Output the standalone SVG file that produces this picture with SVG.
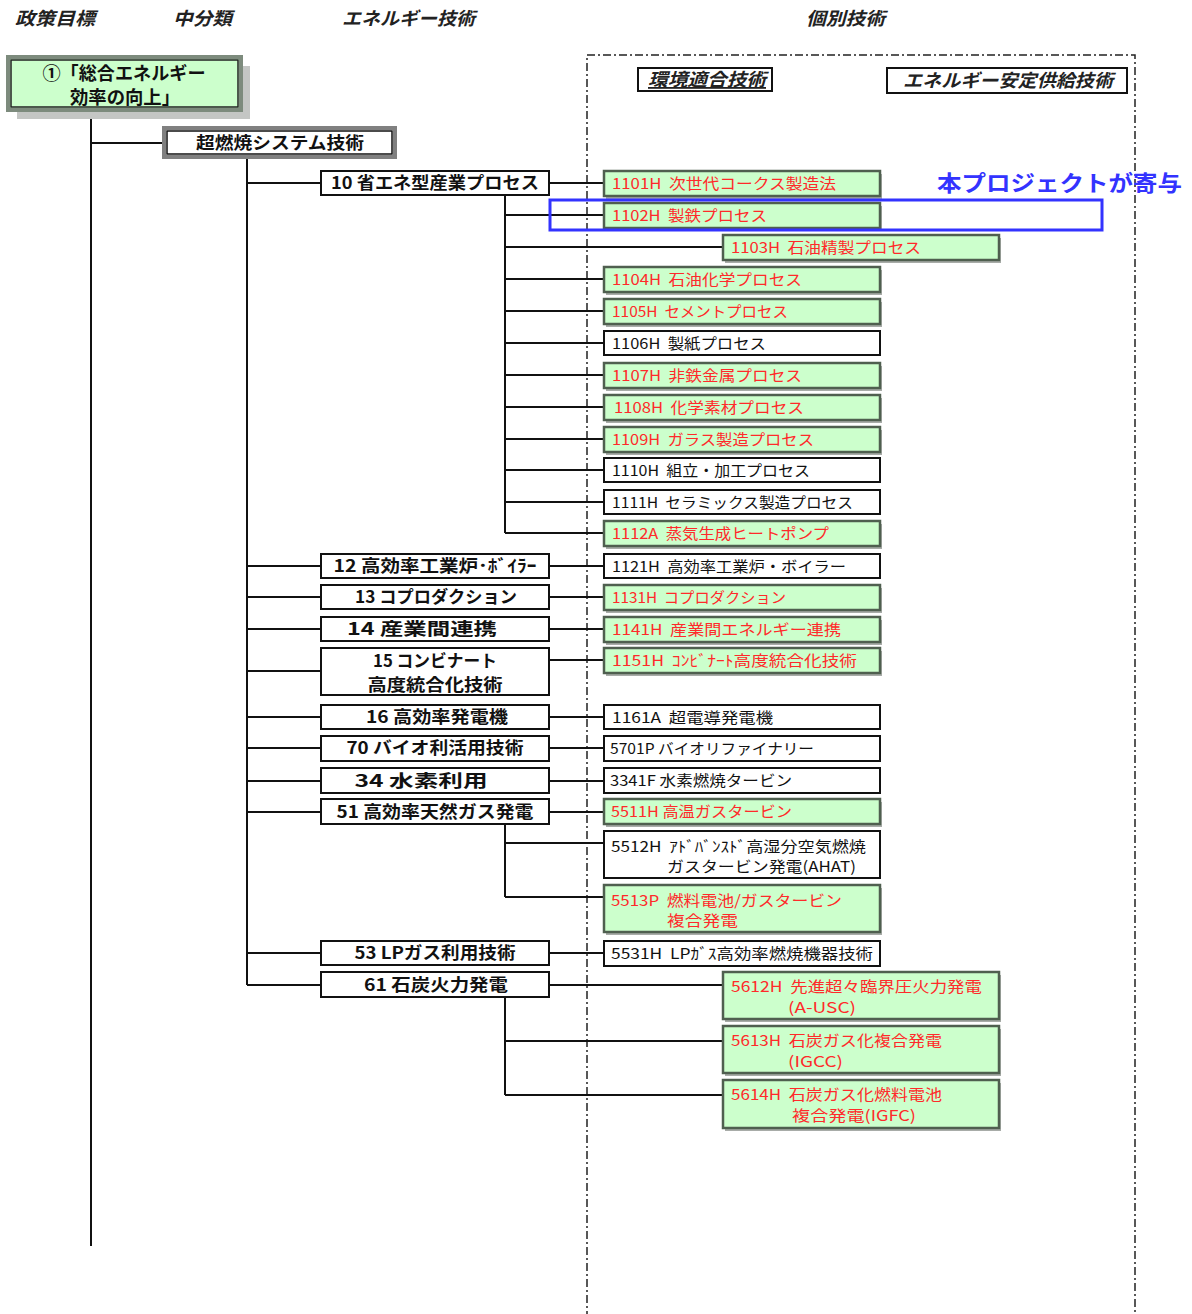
<svg xmlns="http://www.w3.org/2000/svg" width="1192" height="1314" viewBox="0 0 1192 1314">
<style>
text{font-family:"Noto Sans CJK JP","Noto Sans",sans-serif;white-space:pre}
.hd{font-size:18px;font-weight:bold;font-style:italic;fill:#222}
.mid{font-size:17px;font-weight:bold;fill:#111}
.t{font-size:15px;fill:#111}
.r{font-size:15px;fill:#ff2a2a}
.gbox{fill:#ccffcc;stroke:#4f5f4f;stroke-width:2.5}
.sh{fill:#a8aca8}
.wbox{fill:#fff;stroke:#111;stroke-width:2}
.mbox{fill:#fff;stroke:#111;stroke-width:2}
.ln{stroke:#111;stroke-width:2;fill:none}
</style>
<rect width="1192" height="1314" fill="#fff"/>
<g id="headers">
<text class="hd" x="15" y="25" textLength="80" lengthAdjust="spacingAndGlyphs">政策目標</text>
<text class="hd" x="173" y="25" textLength="59" lengthAdjust="spacingAndGlyphs">中分類</text>
<text class="hd" x="342" y="25" textLength="133" lengthAdjust="spacingAndGlyphs">エネルギー技術</text>
<text class="hd" x="806" y="25" textLength="79" lengthAdjust="spacingAndGlyphs">個別技術</text>
</g>
<g id="region">
<rect x="587" y="55" width="548" height="1300" fill="none" stroke="#222" stroke-width="1.5" stroke-dasharray="8,3,2,3"/>
</g>
<g id="subhead-env">
<rect x="638" y="68" width="134" height="23" fill="#fff" stroke="#111" stroke-width="2"/>
<text class="hd" x="648" y="86" font-size="16" text-decoration="underline" textLength="118" lengthAdjust="spacingAndGlyphs">環境適合技術</text>
</g>
<g id="subhead-supply">
<rect x="887" y="68" width="240" height="25" fill="#fff" stroke="#111" stroke-width="2"/>
<text class="hd" x="903" y="87" font-size="16" textLength="210" lengthAdjust="spacingAndGlyphs">エネルギー安定供給技術</text>
</g>
<g id="connectors" class="ln">
<line x1="91" y1="110" x2="91" y2="1246"/>
<line x1="91" y1="143" x2="164" y2="143"/>
<line x1="247" y1="157" x2="247" y2="985"/>
<line x1="247" y1="183" x2="321" y2="183"/>
<line x1="247" y1="566" x2="321" y2="566"/>
<line x1="247" y1="597" x2="321" y2="597"/>
<line x1="247" y1="629" x2="321" y2="629"/>
<line x1="247" y1="671" x2="321" y2="671"/>
<line x1="247" y1="717" x2="321" y2="717"/>
<line x1="247" y1="748" x2="321" y2="748"/>
<line x1="247" y1="781" x2="321" y2="781"/>
<line x1="247" y1="812" x2="321" y2="812"/>
<line x1="247" y1="953" x2="321" y2="953"/>
<line x1="247" y1="985" x2="321" y2="985"/>
<line x1="549" y1="183" x2="604" y2="183"/>
<line x1="505" y1="195" x2="505" y2="533"/>
<line x1="505" y1="215" x2="604" y2="215"/>
<line x1="505" y1="247" x2="723" y2="247"/>
<line x1="505" y1="279" x2="604" y2="279"/>
<line x1="505" y1="311" x2="604" y2="311"/>
<line x1="505" y1="343" x2="604" y2="343"/>
<line x1="505" y1="375" x2="604" y2="375"/>
<line x1="505" y1="407" x2="604" y2="407"/>
<line x1="505" y1="439" x2="604" y2="439"/>
<line x1="505" y1="470" x2="604" y2="470"/>
<line x1="505" y1="502" x2="604" y2="502"/>
<line x1="505" y1="533" x2="604" y2="533"/>
<line x1="549" y1="566" x2="604" y2="566"/>
<line x1="549" y1="597" x2="604" y2="597"/>
<line x1="549" y1="629" x2="604" y2="629"/>
<line x1="549" y1="660" x2="604" y2="660"/>
<line x1="549" y1="717" x2="604" y2="717"/>
<line x1="549" y1="748" x2="604" y2="748"/>
<line x1="549" y1="781" x2="604" y2="781"/>
<line x1="549" y1="812" x2="604" y2="812"/>
<line x1="505" y1="824" x2="505" y2="897"/>
<line x1="505" y1="843" x2="604" y2="843"/>
<line x1="505" y1="897" x2="604" y2="897"/>
<line x1="549" y1="953" x2="604" y2="953"/>
<line x1="549" y1="985" x2="723" y2="985"/>
<line x1="505" y1="997" x2="505" y2="1095"/>
<line x1="505" y1="1041" x2="723" y2="1041"/>
<line x1="505" y1="1095" x2="723" y2="1095"/>
</g>
<g id="goal">
<rect x="17" y="66" width="233" height="53" fill="#c4c6c4"/>
<rect x="8" y="57" width="233" height="53" fill="#ccffcc" stroke="#7d8b7d" stroke-width="4"/>
<rect x="11" y="60" width="227" height="47" fill="none" stroke="#222" stroke-width="1.5"/>
<text x="124" y="80" font-size="18" font-weight="bold" text-anchor="middle" fill="#111" textLength="163" lengthAdjust="spacingAndGlyphs">①「総合エネルギー</text>
<text x="125" y="104" font-size="18" font-weight="bold" text-anchor="middle" fill="#111" textLength="110" lengthAdjust="spacingAndGlyphs">効率の向上」</text>
</g>
<g id="n-chonensho">
<rect x="164" y="128" width="231" height="29" fill="#fff" stroke="#808080" stroke-width="4"/>
<rect x="167" y="131" width="225" height="23" fill="none" stroke="#111" stroke-width="1.5"/>
<text class="mid" x="280" y="149" text-anchor="middle" textLength="168" lengthAdjust="spacingAndGlyphs">超燃焼システム技術</text>
</g>
<g id="mid-nodes">
<g id="m10"><rect class="mbox" x="321" y="171" width="228" height="24"/><text class="mid" x="435" y="189" text-anchor="middle" textLength="208" lengthAdjust="spacingAndGlyphs">10 省エネ型産業プロセス</text></g>
<g id="m12"><rect class="mbox" x="321" y="554" width="228" height="24"/><text class="mid" x="435" y="572" text-anchor="middle" textLength="203" lengthAdjust="spacingAndGlyphs">12 高効率工業炉･ﾎﾞｲﾗｰ</text></g>
<g id="m13"><rect class="mbox" x="321" y="585" width="228" height="24"/><text class="mid" x="436" y="603" text-anchor="middle" textLength="162" lengthAdjust="spacingAndGlyphs">13 コプロダクション</text></g>
<g id="m14"><rect class="mbox" x="321" y="617" width="228" height="24"/><text class="mid" x="422" y="635" text-anchor="middle" textLength="150" lengthAdjust="spacingAndGlyphs">14 産業間連携</text></g>
<g id="m15"><rect class="mbox" x="321" y="648" width="228" height="47"/><text class="mid" x="435" y="667" text-anchor="middle" textLength="124" lengthAdjust="spacingAndGlyphs">15 コンビナート</text><text class="mid" x="435" y="691" text-anchor="middle" textLength="135" lengthAdjust="spacingAndGlyphs">高度統合化技術</text></g>
<g id="m16"><rect class="mbox" x="321" y="705" width="228" height="24"/><text class="mid" x="437" y="723" text-anchor="middle" textLength="142" lengthAdjust="spacingAndGlyphs">16 高効率発電機</text></g>
<g id="m70"><rect class="mbox" x="321" y="736" width="228" height="25"/><text class="mid" x="435" y="754" text-anchor="middle" textLength="177" lengthAdjust="spacingAndGlyphs">70 バイオ利活用技術</text></g>
<g id="m34"><rect class="mbox" x="321" y="768" width="228" height="25"/><text class="mid" x="421" y="787" text-anchor="middle" textLength="133" lengthAdjust="spacingAndGlyphs">34 水素利用</text></g>
<g id="m51"><rect class="mbox" x="321" y="799" width="228" height="25"/><text class="mid" x="435" y="818" text-anchor="middle" textLength="197" lengthAdjust="spacingAndGlyphs">51 高効率天然ガス発電</text></g>
<g id="m53"><rect class="mbox" x="321" y="941" width="228" height="24"/><text class="mid" x="435" y="959" text-anchor="middle" textLength="161" lengthAdjust="spacingAndGlyphs">53 LPガス利用技術</text></g>
<g id="m61"><rect class="mbox" x="321" y="972" width="228" height="25"/><text class="mid" x="436" y="991" text-anchor="middle" textLength="144" lengthAdjust="spacingAndGlyphs">61 石炭火力発電</text></g>
</g>
<g id="tech-nodes">
<g id="t1101H"><rect class="sh" x="606" y="174" width="276" height="25"/><rect class="gbox" x="604" y="171" width="276" height="25"/><text class="r" x="612" y="189" textLength="224" lengthAdjust="spacingAndGlyphs">1101H  次世代コークス製造法</text></g>
<g id="t1102H"><rect class="sh" x="606" y="206" width="276" height="25"/><rect class="gbox" x="604" y="203" width="276" height="25"/><text class="r" x="612" y="221" textLength="155" lengthAdjust="spacingAndGlyphs">1102H  製鉄プロセス</text></g>
<g id="t1103H"><rect class="sh" x="725" y="238" width="276" height="25"/><rect class="gbox" x="723" y="235" width="276" height="25"/><text class="r" x="731" y="253" textLength="190" lengthAdjust="spacingAndGlyphs">1103H  石油精製プロセス</text></g>
<g id="t1104H"><rect class="sh" x="606" y="270" width="276" height="25"/><rect class="gbox" x="604" y="267" width="276" height="25"/><text class="r" x="612" y="285" textLength="190" lengthAdjust="spacingAndGlyphs">1104H  石油化学プロセス</text></g>
<g id="t1105H"><rect class="sh" x="606" y="302" width="276" height="25"/><rect class="gbox" x="604" y="299" width="276" height="25"/><text class="r" x="612" y="317" textLength="176" lengthAdjust="spacingAndGlyphs">1105H  セメントプロセス</text></g>
<g id="t1106H"><rect class="wbox" x="604" y="331" width="276" height="24"/><text class="t" x="612" y="349" textLength="154" lengthAdjust="spacingAndGlyphs">1106H  製紙プロセス</text></g>
<g id="t1107H"><rect class="sh" x="606" y="366" width="276" height="25"/><rect class="gbox" x="604" y="363" width="276" height="25"/><text class="r" x="612" y="381" textLength="190" lengthAdjust="spacingAndGlyphs">1107H  非鉄金属プロセス</text></g>
<g id="t1108H"><rect class="sh" x="606" y="398" width="276" height="25"/><rect class="gbox" x="604" y="395" width="276" height="25"/><text class="r" x="614" y="413" textLength="190" lengthAdjust="spacingAndGlyphs">1108H  化学素材プロセス</text></g>
<g id="t1109H"><rect class="sh" x="606" y="430" width="276" height="25"/><rect class="gbox" x="604" y="427" width="276" height="25"/><text class="r" x="612" y="445" textLength="202" lengthAdjust="spacingAndGlyphs">1109H  ガラス製造プロセス</text></g>
<g id="t1110H"><rect class="wbox" x="604" y="458" width="276" height="24"/><text class="t" x="612" y="476" textLength="198" lengthAdjust="spacingAndGlyphs">1110H  組立・加工プロセス</text></g>
<g id="t1111H"><rect class="wbox" x="604" y="490" width="276" height="24"/><text class="t" x="612" y="508" textLength="241" lengthAdjust="spacingAndGlyphs">1111H  セラミックス製造プロセス</text></g>
<g id="t1112A"><rect class="sh" x="606" y="524" width="276" height="25"/><rect class="gbox" x="604" y="521" width="276" height="25"/><text class="r" x="612" y="539" textLength="217" lengthAdjust="spacingAndGlyphs">1112A  蒸気生成ヒートポンプ</text></g>
<g id="t1121H"><rect class="wbox" x="604" y="554" width="276" height="24"/><text class="t" x="612" y="572" textLength="234" lengthAdjust="spacingAndGlyphs">1121H  高効率工業炉・ボイラー</text></g>
<g id="t1131H"><rect class="sh" x="606" y="588" width="276" height="25"/><rect class="gbox" x="604" y="585" width="276" height="25"/><text class="r" x="612" y="603" textLength="174" lengthAdjust="spacingAndGlyphs">1131H  コプロダクション</text></g>
<g id="t1141H"><rect class="sh" x="606" y="620" width="276" height="25"/><rect class="gbox" x="604" y="617" width="276" height="25"/><text class="r" x="612" y="635" textLength="229" lengthAdjust="spacingAndGlyphs">1141H  産業間エネルギー連携</text></g>
<g id="t1151H"><rect class="sh" x="606" y="651" width="276" height="25"/><rect class="gbox" x="604" y="648" width="276" height="25"/><text class="r" x="612" y="666" textLength="245" lengthAdjust="spacingAndGlyphs">1151H  ｺﾝﾋﾞﾅｰﾄ高度統合化技術</text></g>
<g id="t1161A"><rect class="wbox" x="604" y="705" width="276" height="24"/><text class="t" x="612" y="723" textLength="161" lengthAdjust="spacingAndGlyphs">1161A  超電導発電機</text></g>
<g id="t5701P"><rect class="wbox" x="604" y="736" width="276" height="25"/><text class="t" x="610" y="754" textLength="204" lengthAdjust="spacingAndGlyphs">5701P バイオリファイナリー</text></g>
<g id="t3341F"><rect class="wbox" x="604" y="768" width="276" height="25"/><text class="t" x="610" y="786" textLength="182" lengthAdjust="spacingAndGlyphs">3341F 水素燃焼タービン</text></g>
<g id="t5511H"><rect class="sh" x="606" y="802" width="276" height="25"/><rect class="gbox" x="604" y="799" width="276" height="25"/><text class="r" x="611" y="817" textLength="181" lengthAdjust="spacingAndGlyphs">5511H 高温ガスタービン</text></g>
<g id="t5512H"><rect class="wbox" x="604" y="831" width="276" height="47"/><text class="t" x="611" y="852" textLength="255" lengthAdjust="spacingAndGlyphs">5512H  ｱﾄﾞﾊﾞﾝｽﾄﾞ高湿分空気燃焼</text><text class="t" x="667" y="872" textLength="189" lengthAdjust="spacingAndGlyphs">ガスタービン発電(AHAT)</text></g>
<g id="t5513P"><rect class="sh" x="606" y="888" width="276" height="47"/><rect class="gbox" x="604" y="885" width="276" height="47"/><text class="r" x="611" y="906" textLength="231" lengthAdjust="spacingAndGlyphs">5513P  燃料電池/ガスタービン</text><text class="r" x="667" y="926" textLength="71" lengthAdjust="spacingAndGlyphs">複合発電</text></g>
<g id="t5531H"><rect class="wbox" x="604" y="941" width="276" height="25"/><text class="t" x="611" y="959" textLength="262" lengthAdjust="spacingAndGlyphs">5531H  LPｶﾞｽ高効率燃焼機器技術</text></g>
<g id="t5612H"><rect class="sh" x="725" y="975" width="276" height="47"/><rect class="gbox" x="723" y="972" width="276" height="47"/><text class="r" x="731" y="992" textLength="251" lengthAdjust="spacingAndGlyphs">5612H  先進超々臨界圧火力発電</text><text class="r" x="788" y="1013" textLength="68" lengthAdjust="spacingAndGlyphs">(A-USC)</text></g>
<g id="t5613H"><rect class="sh" x="725" y="1029" width="276" height="47"/><rect class="gbox" x="723" y="1026" width="276" height="47"/><text class="r" x="731" y="1046" textLength="211" lengthAdjust="spacingAndGlyphs">5613H  石炭ガス化複合発電</text><text class="r" x="788" y="1067" textLength="55" lengthAdjust="spacingAndGlyphs">(IGCC)</text></g>
<g id="t5614H"><rect class="sh" x="725" y="1083" width="276" height="48"/><rect class="gbox" x="723" y="1080" width="276" height="48"/><text class="r" x="731" y="1100" textLength="211" lengthAdjust="spacingAndGlyphs">5614H  石炭ガス化燃料電池</text><text class="r" x="792" y="1121" textLength="124" lengthAdjust="spacingAndGlyphs">複合発電(IGFC)</text></g>
</g>
<g id="highlight">
<rect x="550" y="200" width="552" height="30" fill="none" stroke="#3333ff" stroke-width="3"/>
<text x="937" y="191" font-size="22" font-weight="bold" fill="#3333ff" textLength="245" lengthAdjust="spacingAndGlyphs">本プロジェクトが寄与</text>
</g>
</svg>
